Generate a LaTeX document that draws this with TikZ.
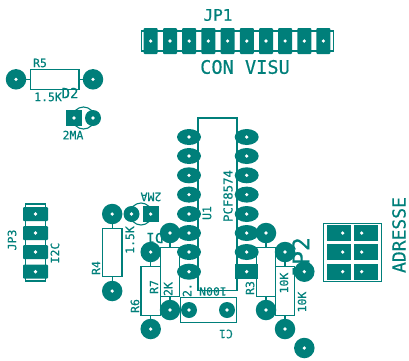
\documentclass[tikz,border=0pt]{standalone}
\usepackage{fontspec}
\setmainfont[FakeBold=0.4]{DejaVu Sans Mono}
\definecolor{pcb}{HTML}{007F7A}
\tikzset{
  base/.style={draw=pcb,line width=1.1pt,inner sep=0pt,outer sep=0pt},
  pcbtext/.style={text=pcb,inner sep=0pt,font=\fontsize{11.5}{12}\selectfont},
  bigtext/.style={text=pcb,inner sep=0pt,font=\fontsize{16}{17}\selectfont},
  vtext/.style={pcbtext,rotate=90},
  flip/.style={pcbtext,rotate=180},
  outline/.style={base,rectangle},
  holed/.style={fill=pcb,inner sep=0pt,outer sep=0pt,path picture={\fill[white] (path picture bounding box.center) circle (1.8);}},
  bigpad/.style={holed,circle,minimum size=20.5pt},
  smallpad/.style={holed,circle,minimum size=16pt},
  sqpad/.style={holed,rectangle,minimum width=16pt,minimum height=16pt},
  tallpad/.style={holed,rectangle,rounded corners=1pt,minimum width=14pt,minimum height=26pt},
  widepad/.style={holed,rectangle,rounded corners=1pt,minimum width=25pt,minimum height=14pt},
  ovalpad/.style={holed,ellipse,minimum width=24pt,minimum height=16pt},
  icpad/.style={holed,rectangle,minimum width=23pt,minimum height=15pt},
  block/.style={fill=pcb,rectangle,inner sep=0pt,minimum width=24pt,minimum height=16pt},
  hole/.style={circle,fill=white,inner sep=0pt,minimum size=3.6pt},
  lead/.style={draw=pcb,line width=1.1pt}
}
\usetikzlibrary{shapes.geometric}
\begin{document}
\begin{tikzpicture}[x=1pt,y=-1pt]
\useasboundingbox (0,0) rectangle (409,360);
% texts under the pads
\node[bigtext] (tjp1) at (218,15) {JP1};
\node[bigtext,font=\fontsize{18.6}{19}\selectfont] (tcon) at (245,67) {CON VISU};
\node[pcbtext] (tr5) at (40,63) {R5};
\node[pcbtext] (tr5v) at (48,97) {1.5K};
\node[pcbtext,font=\fontsize{14}{15}\selectfont] (td2) at (70,93) {D2};
\node[pcbtext] (td2v) at (73,135) {2MA};
\node[flip] (td1v) at (151,197) {2MA};
\node[flip,font=\fontsize{14}{15}\selectfont] (td1) at (155,238) {D1};
\node[vtext] (tjp3) at (12,240) {JP3};
\node[vtext] (ti2c) at (55,253) {I2C};
\node[vtext] (tr4) at (96,268) {R4};
\node[vtext] (tr4v) at (130,240) {1.5K};
\node[vtext] (tr6) at (135,306) {R6};
\node[vtext] (tr7) at (154,287) {R7};
\node[vtext] (t2k) at (168,289) {2K};
\node[vtext] (tu1) at (207,213) {U1};
\node[vtext,font=\fontsize{12.3}{13}\selectfont] (tpcf) at (228,196) {PCF8574};
\node[flip] (t100n) at (213,291.5) {100N};
\node[vtext] (t2) at (187,290) {2.};
\node[flip] (tc1) at (226,334) {C1};
\node[vtext] (tr3) at (250,288) {R3};
\node[vtext] (t10ka) at (284,283) {10K};
\node[vtext] (t10kb) at (302,302) {10K};
\node[bigtext,rotate=90,font=\fontsize{23}{24}\selectfont] (tjp2) at (301,258) {JP2};
\node[bigtext,rotate=90,font=\fontsize{18}{19}\selectfont] (tadr) at (399,235) {ADRESSE};
% outlines
\node[outline,minimum width=192.5pt,minimum height=20pt] (jp1box) at (237.3,41) {};
\node[outline,minimum width=48.5pt,minimum height=19.5pt] (r5body) at (54.7,79.3) {};
\node[outline,minimum width=19.5pt,minimum height=48.5pt] (r4body) at (112.2,252.3) {};
\node[outline,minimum width=19.5pt,minimum height=48.5pt] (r6body) at (150.7,291) {};
\node[outline,minimum width=19.5pt,minimum height=48.5pt] (r7body) at (170,272) {};
\node[outline,minimum width=19.5pt,minimum height=48.5pt] (r3body) at (266,272) {};
\node[outline,minimum width=19.5pt,minimum height=48.5pt] (r8body) at (285,291) {};
\node[outline,minimum width=39pt,minimum height=172.7pt] (icbody) at (217.5,204.3) {};
\node[outline,minimum width=55.5pt,minimum height=25pt] (c1body) at (208.3,309.8) {};
\node[outline,minimum width=20pt,minimum height=77pt] (jp3box) at (35.5,242.5) {};
\node[outline,minimum width=58pt,minimum height=57.7pt] (adrbox) at (352.3,252.2) {};
\node[base,circle,minimum size=22pt] (d2ring) at (83.5,118) {};
\node[base,circle,minimum size=22pt] (d1ring) at (141,214) {};
% JP1
\foreach \i/\x in {1/150.7,2/170,3/189.2,4/208.3,5/227.6,6/246.8,7/266,8/285.1,9/304.3,10/323.4}
  \node[tallpad] (jp1p\i) at (\x,41) {};
% JP3
\foreach \i/\y in {1/214,2/233,3/252,4/271.7}
  \node[widepad] (jp3p\i) at (35.5,\y) {};
% IC
\foreach \i/\y in {1/137,2/156,3/175.3,4/194.6,5/214,6/233,7/252,8/271.7} {
  \node[ovalpad] (icl\i) at (189,\y) {};
}
\foreach \i/\y in {1/137,2/156,3/175.3,4/194.6,5/214,6/233,7/252} {
  \node[ovalpad] (icr\i) at (246.7,\y) {};
}
\node[icpad] (icr8) at (246.7,271.7) {};
% diodes
\node[sqpad] (d2k) at (74,118) {};
\node[smallpad] (d2a) at (93,118) {};
\node[sqpad] (d1k) at (150.7,214) {};
\node[smallpad] (d1a) at (131.5,214) {};
% C1
\node[smallpad] (c1a) at (189,310) {};
\node[smallpad] (c1b) at (227,310) {};
% resistors
\node[bigpad] (r5a) at (16,79.3) {};
\node[bigpad] (r5b) at (93,79.3) {};
\node[bigpad] (r4a) at (112.2,214) {};
\node[bigpad] (r4b) at (112.2,291) {};
\node[bigpad] (r6a) at (150.7,252) {};
\node[bigpad] (r6b) at (150.7,329) {};
\node[bigpad] (r7a) at (170,233) {};
\node[bigpad] (r7b) at (170,310) {};
\node[bigpad] (r3a) at (266,233) {};
\node[bigpad] (r3b) at (266,310) {};
\node[bigpad] (r8a) at (285,252) {};
\node[bigpad] (r8b) at (285,329) {};
\node[bigpad] (jp2a) at (304.3,271.7) {};
\node[bigpad] (jp2b) at (304.3,348) {};
% leads
\foreach \a/\b in {r5a/r5body,r5b/r5body,r4a/r4body,r4b/r4body,r6a/r6body,r6b/r6body,r7a/r7body,r7b/r7body,r3a/r3body,r3b/r3body,r8a/r8body,r8b/r8body}
  \draw[lead] (\a) -- (\b);
% address block
\foreach \i/\y in {1/233,2/252,3/271.7} {
  \node[block] (adl\i) at (338.7,\y) {};
  \node[block] (adr\i) at (365.7,\y) {};
  \node[hole] (adlh\i) at (342.7,\y) {};
  \node[hole] (adrh\i) at (361.7,\y) {};
}
\end{tikzpicture}
\end{document}
